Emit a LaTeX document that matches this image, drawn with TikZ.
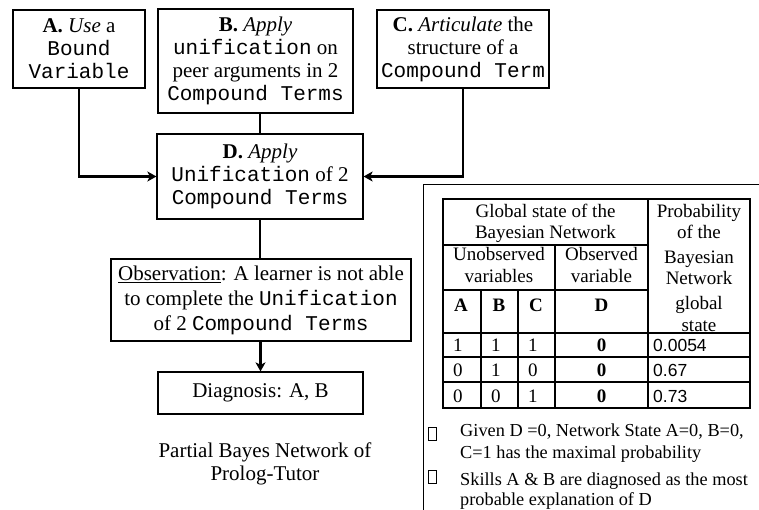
\documentclass[tikz,border=0pt]{standalone}
\usepackage{fontspec}
\setmainfont{Liberation Serif}
\newfontfamily\mono{Liberation Mono}
\newfontfamily\arialf{Liberation Sans}
\usetikzlibrary{arrows.meta}
\newcommand\mt[1]{{\mono #1}}
\begin{document}
\begin{tikzpicture}[x=1pt,y=-1pt,
  box/.style={draw,line width=1.2pt,inner sep=0pt,align=center,font=\fontsize{21}{23}\selectfont},
  conn/.style={line width=2.2pt},
  arr/.style={conn,-{Stealth[length=9pt,width=10pt,inset=2.5pt]}},
  tline/.style={line width=1.8pt},
  tt/.style={font=\fontsize{19}{21}\selectfont,inner sep=0pt,anchor=base},
  tl/.style={font=\fontsize{19}{21}\selectfont,inner sep=0pt,anchor=base west},
  ts/.style={font=\arialf\fontsize{17.5}{20}\selectfont,inner sep=0pt,anchor=base west},
  bt/.style={font=\fontsize{18.3}{22}\selectfont,inner sep=0pt,anchor=base west},
  captext/.style={font=\fontsize{21}{23}\selectfont,inner sep=0pt,anchor=base},
  sq/.style={draw,line width=0.8pt,minimum width=8pt,minimum height=13pt,inner sep=0pt}]
\useasboundingbox (0,0) rectangle (759,510);
% boxes
\node[box,minimum width=132pt,minimum height=78pt] (A) at (79,49)
  {\textbf{A.} \textit{Use} a\\ \mt{Bound}\\ \mt{Variable}};
\node[box,minimum width=195pt,minimum height=104pt] (B) at (255.5,61)
  {\textbf{B.} \textit{Apply}\\ \mt{unification} on\\ peer arguments in 2\\ \mt{Compound Terms}};
\node[box,minimum width=172pt,minimum height=78pt] (C) at (463,49)
  {\textbf{C.} \textit{Articulate} the\\ structure of a\\ \mt{Compound Term}};
\node[box,minimum width=206pt,minimum height=85pt] (D) at (260,176.5)
  {\textbf{D.} \textit{Apply}\\ \mt{Unification} of 2\\ \mt{Compound Terms}};
\node[box,minimum width=300pt,minimum height=82pt,font=\fontsize{21}{25}\selectfont] (O) at (261,300)
  {\underline{Observation}: A learner is not able\\ to complete the \mt{Unification}\\ of 2 \mt{Compound Terms}};
\node[box,minimum width=205pt,minimum height=42pt] (G) at (260.5,393) {Diagnosis: A, B};
% connectors
\draw[arr] (A.south) |- (D.west);
\draw[arr] (C.south) |- (D.east);
\draw[conn] (D.north |- B.south) -- (D.north);
\draw[conn] (D.south) -- (O.north -| D.south);
\draw[arr] (O.south -| G.north) -- (G.north);
% caption
\node[captext] (cap1) at (265,457) {Partial Bayes Network of};
\node[captext] (cap2) at (265,480) {Prolog-Tutor};
% outer frame
\draw[line width=1pt] (759,185) -- (423,185) -- (423,510);
% table
\draw[tline] (443,199) rectangle (750,408);
\draw[tline] (648,199) -- (648,408);
\draw[tline] (443,245) -- (648,245);
\draw[tline] (555,245) -- (555,408);
\draw[tline] (443,290) -- (648,290);
\draw[tline] (481,290) -- (481,408);
\draw[tline] (518,290) -- (518,408);
\draw[tline] (443,333) -- (750,333);
\draw[tline] (443,357) -- (750,357);
\draw[tline] (443,382) -- (750,382);
\node[tt] (h1) at (545.5,218) {Global state of the};
\node[tt] (h2) at (545.5,239) {Bayesian Network};
\node[tt] (h3) at (499,261) {Unobserved};
\node[tt] (h4) at (499,283) {variables};
\node[tt] (h5) at (601.5,261) {Observed};
\node[tt] (h6) at (601.5,283) {variable};
\node[tt] (p1) at (699,218) {Probability};
\node[tt] (p2) at (699,239) {of the};
\node[tt] (p3) at (699,263) {Bayesian};
\node[tt] (p4) at (699,284) {Network};
\node[tt] (p5) at (699,309) {global};
\node[tt] (p6) at (699,331) {state};
\node[tt] (cA) at (461,311) {\textbf{A}};
\node[tt] (cB) at (499,311) {\textbf{B}};
\node[tt] (cC) at (536,311) {\textbf{C}};
\node[tt] (cD) at (601.5,311) {\textbf{D}};
% data rows
\node[tl] (r1a) at (453,351) {1};
\node[tl] (r1b) at (491,351) {1};
\node[tl] (r1c) at (528,351) {1};
\node[tt] (r1d) at (601.5,351) {\textbf{0}};
\node[ts] (r1p) at (653,351) {0.0054};
\node[tl] (r2a) at (453,376) {0};
\node[tl] (r2b) at (491,376) {1};
\node[tl] (r2c) at (528,376) {0};
\node[tt] (r2d) at (601.5,376) {\textbf{0}};
\node[ts] (r2p) at (653,376) {0.67};
\node[tl] (r3a) at (453,402) {0};
\node[tl] (r3b) at (491,402) {0};
\node[tl] (r3c) at (528,402) {1};
\node[tt] (r3d) at (601.5,402) {\textbf{0}};
\node[ts] (r3p) at (653,402) {0.73};
% bullets
\node[sq] (s1) at (432,433.5) {};
\node[sq] (s2) at (432,476.5) {};
\node[bt] (b1) at (460,436) {Given D =0, Network State A=0, B=0,};
\node[bt] (b2) at (460,458) {C=1 has the maximal probability};
\node[bt] (b3) at (460,485) {Skills A \& B are diagnosed as the most};
\node[bt] (b4) at (460,505) {probable explanation of D};
\end{tikzpicture}
\end{document}
